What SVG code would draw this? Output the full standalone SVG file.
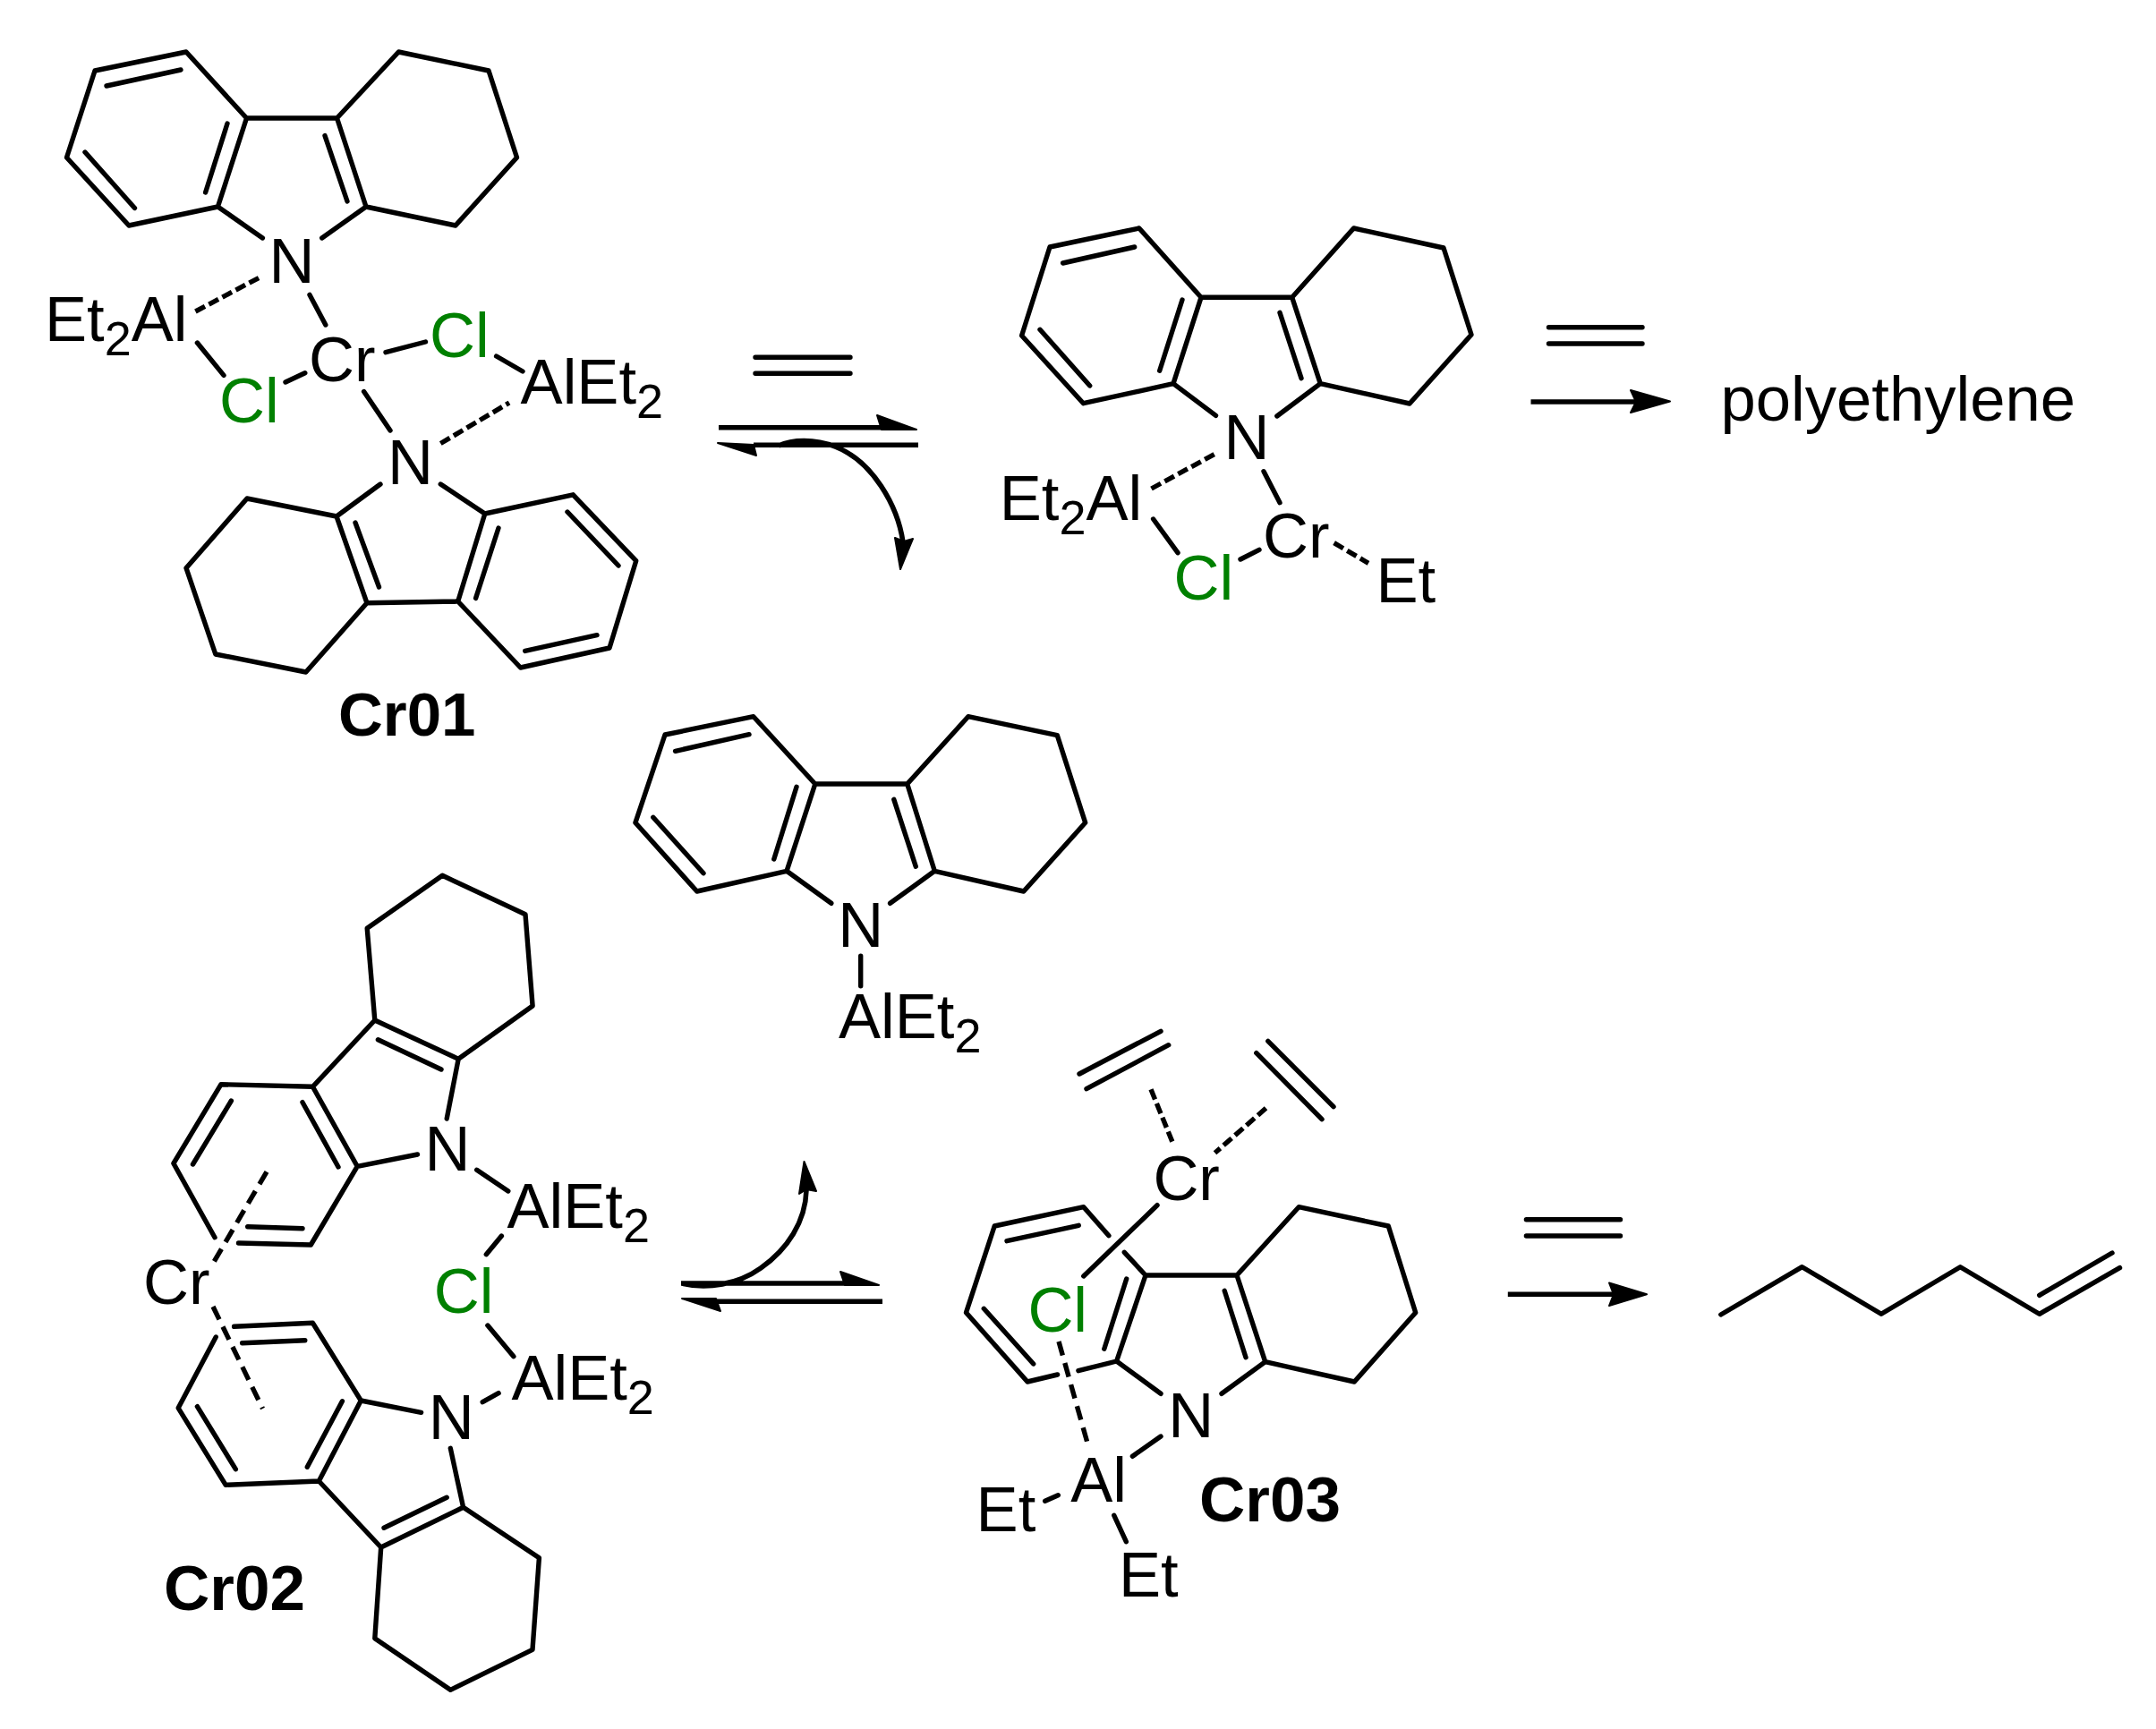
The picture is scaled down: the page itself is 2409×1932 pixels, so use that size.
<svg xmlns="http://www.w3.org/2000/svg" width="2409" height="1932" viewBox="0 0 2409 1932">
<style>
.b{fill:none;stroke:#000;stroke-width:5.4;stroke-linecap:round;stroke-linejoin:round}
.d{fill:none;stroke:#000;stroke-width:5.4;stroke-dasharray:12 5}
.p{fill:none;stroke:#000;stroke-width:5.4;stroke-dasharray:16 9}
.a{fill:none;stroke:#000;stroke-width:5.6}
.h{fill:#000;stroke:#000;stroke-width:2;stroke-linejoin:round}
text{font-family:"Liberation Sans",Arial,sans-serif;font-size:70.6px;fill:#000}
.g{fill:#008000}
.l{font-weight:bold;font-size:71px}
.s{font-size:54px}
</style>
<rect width="2409" height="1932" fill="#fff"/>
<g id="Cr01">
<path class="b" d="M293.4,266L243.4,231L144,252L74.5,176L106,79L208,58L275.5,132L243.4,231M275.5,132H376.5L409,231L359.7,266M376.5,132L445.4,58L546,79L577.5,176L509,252L409,231M119,96L202,78M95,170L150.5,232.5M254,138L229.6,215M363,151.6L388,225"/>
<path class="b" d="M425,541L376,577L276,557L208,634.7L240.8,731L341.8,751L410,673.8L376,577M410,673.8L511.7,672L541.8,574L492.3,541M541.8,574L640.3,552.8L710.7,626.7L681,724L581.6,746L511.7,672M397,584L423.5,656M557,590L531.6,668.4M634,572L691,632M586.7,727.4L667,709.7"/>
<path class="b" d="M220.4,383L250,419.4M346,329.4L363.8,363M431,393.7L475.5,382M554.6,398L584,415M319,427L340.8,416.7M406.6,437.6L436,481"/>
<path class="d" d="M218.4,348L290.8,309.6M492.3,495.5L569,450"/>
<text x="326" y="316" text-anchor="middle">N</text>
<text x="458.6" y="541" text-anchor="middle">N</text>
<text x="50" y="381.4">Et<tspan class="s" dy="16">2</tspan><tspan dy="-16">Al</tspan></text>
<text x="345" y="425.8">Cr</text>
<text class="g" x="480" y="399">Cl</text>
<text class="g" x="245" y="472.4">Cl</text>
<text x="581.6" y="451">AlEt<tspan class="s" dy="16">2</tspan></text>
<text class="l" x="378" y="822" style="font-size:69px">Cr01</text>
</g>
<g id="CrEt">
<path class="b" d="M1358.5,464.3L1311,428.7L1210.5,450.7L1141.6,375L1173,276L1272.8,255L1342,332.3L1311,428.7M1342,332.3H1443.7L1475.3,428.7L1426.8,465M1443.7,332.3L1512.6,255L1613,277L1644,374L1575,451L1475.3,428.7M1187.6,294L1267.7,276M1162,368.3L1217.7,431M1321,335L1295.7,414.3M1430,349.3L1454,422.7"/>
<path class="b" d="M1412,526.7L1430,561.7M1288.6,580L1316,617.7M1386,625L1407,614.3"/>
<path class="d" d="M1286.5,546L1358,507M1490.6,606.7L1529,629.3"/>
<text x="1393" y="513" text-anchor="middle">N</text>
<text x="1116.7" y="580.7">Et<tspan class="s" dy="16">2</tspan><tspan dy="-16">Al</tspan></text>
<text x="1411" y="623">Cr</text>
<text class="g" x="1311.5" y="670">Cl</text>
<text x="1537.5" y="673">Et</text>
</g>
<g id="polyethylene">
<text x="1922.6" y="470">polyethylene</text>
</g>
<g id="AlCarbazole">
<path class="b" d="M928.8,1009.3L879,973.3L778.7,996L709.9,919.3L743,821L841.9,800.7L910.8,876L879,973.3M910.8,876H1013.7L1044.3,973.3L994.6,1009.3M1013.7,876L1081.8,800.7L1181.3,821.7L1212.7,919.3L1143.8,996L1044.3,973.3M754.6,839.3L837,820.7M729.8,913.3L786,975.7M890,879.3L864.8,960M998.8,893.3L1023.3,968.3M961.7,1068.3V1101.7"/>
<text x="961.8" y="1058.3" text-anchor="middle">N</text>
<text x="937" y="1160">AlEt<tspan class="s" dy="16">2</tspan></text>
</g>
<g id="Cr02">
<path class="b" d="M499.2,1250L512.2,1183.3L418.8,1140L410.2,1037.3L494.3,978.3L587,1021.7L595.1,1124L512.2,1183.3M418.8,1140L349.4,1214.3L247,1211.7L193.9,1300L240,1382.7M266.5,1389L347.3,1391L399.2,1303.3L349.4,1214.3M399.2,1303.3L466.5,1290M422.4,1161.7L493,1195M258.4,1230L215.5,1301M276.7,1370.7L338,1372.7M338,1231.7L378,1304"/>
<path class="b" d="M532.7,1307.3L567.8,1331M560.4,1381L543.3,1401.7M544.9,1481L573.9,1515.7M539.2,1566.7L557.1,1556.7"/>
<path class="p" d="M298,1309.3L238,1411.7M238,1460L293.5,1574"/>
<path class="b" d="M261.6,1482.3L349.4,1478.3L403.3,1565L356.3,1655L252.2,1659.3L199.2,1573.3L241.2,1494M403.3,1565L470.6,1578.3M503.3,1618.3L517.6,1684.3L425.7,1729L356.3,1655M517.6,1684.3L602.4,1740.7L595,1843.3L503.3,1888.3L418.8,1830.7L425.7,1729M270.6,1500.7L340.8,1497.7M220.4,1571.7L263.3,1641.7M382.4,1565.7L343.3,1639.3M429,1707.3L499.2,1673.3"/>
<text x="500" y="1308.3" text-anchor="middle">N</text>
<text x="504.3" y="1608.3" text-anchor="middle">N</text>
<text x="566.5" y="1371.7">AlEt<tspan class="s" dy="16">2</tspan></text>
<text x="571.4" y="1564.3">AlEt<tspan class="s" dy="16">2</tspan></text>
<text class="g" x="484.7" y="1466.7">Cl</text>
<text x="160" y="1456.7">Cr</text>
<text class="l" x="183" y="1799">Cr02</text>
</g>
<g id="Cr03">
<path class="b" d="M1206,1200L1297,1152.3M1214,1216.7L1305.7,1167.7M1416.8,1163.3L1490,1236.7M1403.8,1176.7L1477,1250.7M1293,1346.7L1210.8,1426"/>
<path class="d" d="M1286,1217.3L1310.9,1278.3M1414.5,1238.3L1357.5,1288.3"/>
<path class="b" d="M1238.9,1380.7L1210.8,1348.7L1111.2,1370L1079.5,1466.7L1148,1544L1181.6,1536M1204.9,1531.7L1247.6,1521L1280,1425L1256.3,1399.3M1280,1425H1382L1413.7,1521.7L1365,1557.3M1247.6,1521L1297,1557.3M1382,1425L1451.2,1348.7L1551.3,1370L1581.7,1466.7L1513.3,1544L1413.7,1521.7M1125,1386.7L1205.3,1369.3M1099.3,1462.3L1154.7,1524M1258.7,1429L1233.8,1507.3M1368.2,1442.3L1392,1516.7"/>
<path class="p" d="M1183,1499L1216.7,1618.3"/>
<path class="b" d="M1297,1605L1265.4,1627.3M1182.3,1670.7L1167.7,1677.3M1244.8,1693.3L1258.3,1722.7"/>
<text x="1288.4" y="1340.7">Cr</text>
<text class="g" x="1148.4" y="1488.3">Cl</text>
<text x="1330.7" y="1606" text-anchor="middle">N</text>
<text x="1196.2" y="1678.3">Al</text>
<text x="1090.6" y="1710.7">Et</text>
<text x="1250" y="1784.3">Et</text>
<text class="l" x="1340" y="1700">Cr03</text>
</g>
<g id="hexene">
<path class="b" d="M1922.8,1469L2013.6,1415.7L2102,1468.3L2190.3,1415.7L2278.7,1468.3L2368.5,1416.7M2278.7,1447.3L2360,1400"/>
</g>
<g id="connectors">
<path class="b" d="M844,399.3H950M844,417.3H950M1730.5,365.7H1835M1730.5,384H1835M1705.4,1362.7H1810.5M1705.4,1381H1810.5"/>
<path class="a" d="M803,477.7H985M1026,497.3H842M870,498C885,491 910,490 933,499C975,515 1003,565 1009,606"/>
<polygon class="h" points="1024,480 980,464 985,480"/>
<polygon class="h" points="802,495 845,509 842,497"/>
<polygon class="h" points="1006,636 1000,601 1010,605 1020,602"/>
<path class="a" d="M1710.5,449H1828"/>
<polygon class="h" points="1866,448.5 1822,436 1828,449 1822,461"/>
<path class="a" d="M761,1434H945M986,1454.3H800M762,1434C790,1441 825,1435 850,1417C880,1396 900,1365 901,1330"/>
<polygon class="h" points="982,1436 939,1421 944,1436"/>
<polygon class="h" points="762,1451 805,1465 800,1451"/>
<polygon class="h" points="898.5,1298 893,1334 901,1329 912,1331"/>
<path class="a" d="M1684.8,1446.3H1803"/>
<polygon class="h" points="1840,1446.3 1798,1433.5 1803,1446.3 1798,1459"/>
</g>
</svg>
